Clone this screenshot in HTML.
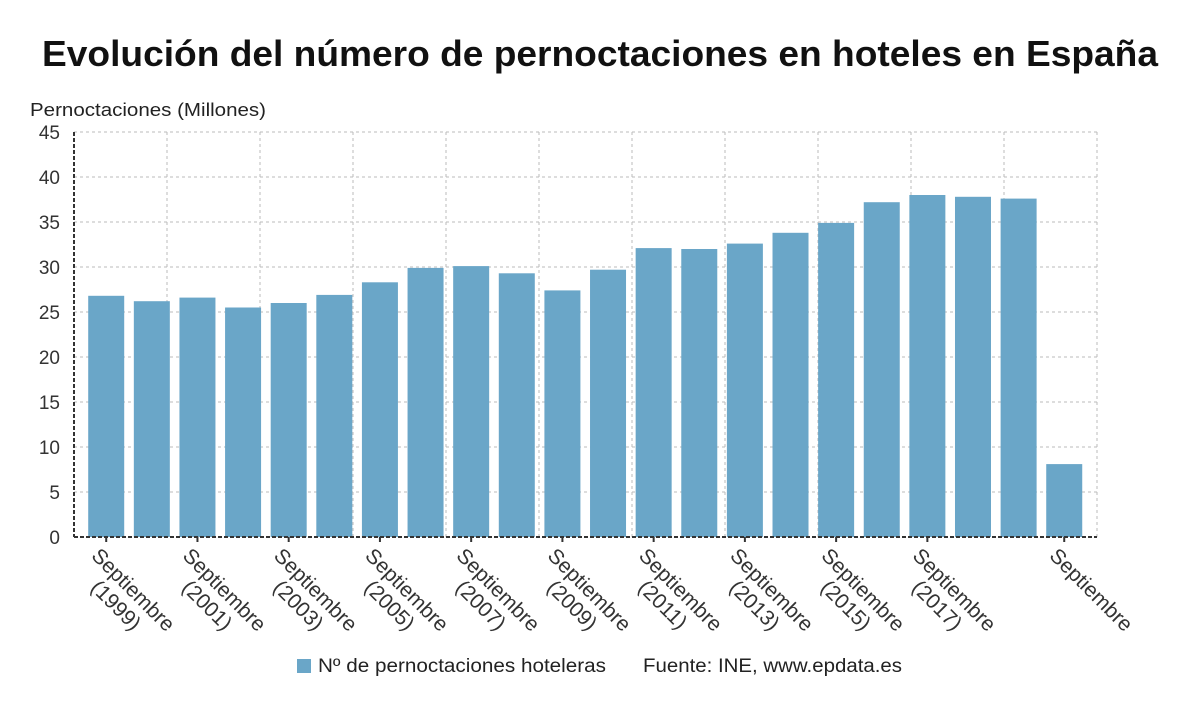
<!DOCTYPE html>
<html><head><meta charset="utf-8"><style>
body{margin:0;background:#fff;font-family:"Liberation Sans","DejaVu Sans",sans-serif;}
</style></head><body>
<svg id="c" width="1200" height="705" xmlns="http://www.w3.org/2000/svg" font-family="'Liberation Sans','DejaVu Sans',sans-serif">
<text x="42" y="66" font-size="36" font-weight="bold" fill="#111" textLength="1116" lengthAdjust="spacingAndGlyphs">Evolución del número de pernoctaciones en hoteles en España</text>
<text x="30" y="116" font-size="18" fill="#222" textLength="236" lengthAdjust="spacingAndGlyphs">Pernoctaciones (Millones)</text>
<g id="grid"></g><g id="bars"></g><g id="axes"></g><g id="labels"></g>
<rect x="297" y="659" width="14" height="14" fill="#6aa6c8"/>
<text x="318" y="672" font-size="19" fill="#222" textLength="288" lengthAdjust="spacingAndGlyphs">Nº de pernoctaciones hoteleras</text>
<text x="643" y="672" font-size="19" fill="#222" textLength="259" lengthAdjust="spacingAndGlyphs">Fuente: INE, www.epdata.es</text>
</svg>
<script>
const categories=["1999","2000","2001","2002","2003","2004","2005","2006","2007","2008","2009","2010","2011","2012","2013","2014","2015","2016","2017","2018","2019","2020"];
const values=[26.8,26.2,26.6,25.5,26.0,26.9,28.3,29.9,30.1,29.3,27.4,29.7,32.1,32.0,32.6,33.8,34.9,37.2,38.0,37.8,37.6,8.1];
const yTicks=[0,5,10,15,20,25,30,35,40,45];
const NS="http://www.w3.org/2000/svg";
const L=74,R=1097,T=132,B=537,yMax=45;
const y=v=>B-(B-T)*v/yMax;
const step=45.62,x0=83.4,bw=36;
const xc=i=>x0+step*i+step/2;
function mk(tag,attrs,parent){const e=document.createElementNS(NS,tag);for(const k in attrs)e.setAttribute(k,attrs[k]);document.getElementById(parent).appendChild(e);return e;}
yTicks.forEach(t=>{
  const g=mk('line',{x1:L,x2:R,y1:y(t),y2:y(t),stroke:'#bbb','stroke-dasharray':'3,3'},'grid');
  
  
  const tx=mk('text',{x:60,y:y(t)+7,'text-anchor':'end','font-size':19,fill:'#333'},'axes');
  tx.textContent=t;
  
  
});
for(let k=0;k<=11;k++){
  const gx=L+93*k;
  const g=mk('line',{x1:gx,x2:gx,y1:T,y2:B,stroke:'#bbb','stroke-dasharray':'3,3'},'grid');
  
  
}
values.forEach((v,i)=>{
  const r=mk('rect',{x:xc(i)-bw/2,y:y(v),width:bw,height:B-y(v),fill:'#6aa6c8'},'bars');
  
  
});
const ax=mk('line',{x1:L,x2:L,y1:T,y2:B,stroke:'#333','stroke-width':2,'stroke-dasharray':'4,2'},'axes');


const bx=mk('line',{x1:L,x2:R,y1:B,y2:B,stroke:'#333','stroke-width':2,'stroke-dasharray':'4,2'},'axes');


categories.forEach((c,i)=>{
  const show=(i%2===0&&i<=18)||i===categories.length-1;
  if(!show)return;
  const cx=xc(i);
  const tk=mk('line',{x1:cx,x2:cx,y1:B,y2:B+5,stroke:'#333','stroke-width':2},'axes');
  
  
  const ox=cx-4, oy=B+8;
  const t=mk('text',{x:ox,y:oy,'font-size':21,fill:'#333',transform:`rotate(45 ${ox} ${oy})`},'labels');
  
  
  const s1=document.createElementNS(NS,'tspan');s1.setAttribute('x',ox);s1.setAttribute('dy','0.8em');s1.textContent='Septiembre';t.appendChild(s1);
  if(i!==categories.length-1){const s2=document.createElementNS(NS,'tspan');s2.setAttribute('x',ox+22);s2.setAttribute('dy','1.1em');s2.textContent='('+c+')';t.appendChild(s2);}
});
</script>
</body></html>
